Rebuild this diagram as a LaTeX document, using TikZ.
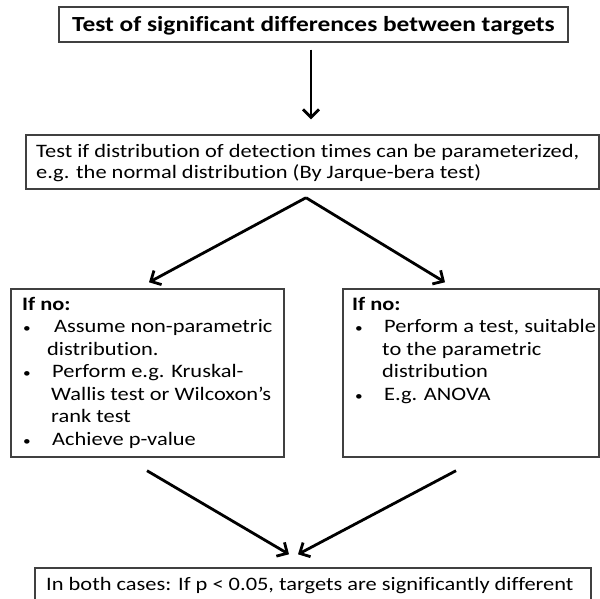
\documentclass[tikz,border=0pt]{standalone}
\usepackage{fontspec}
\setmainfont{Carlito}[FakeStretch=1.18, Ligatures=NoCommon]
\usetikzlibrary{arrows.meta}
\newcommand{\bul}{{\fontsize{13}{13}\selectfont•}}
\tikzset{
  boxnode/.style={draw=black!75, line width=1.4pt, inner sep=0pt, fill=none},
  txt/.style={inner sep=0pt, align=left, anchor=north west},
  arr/.style={line width=2.8pt, -{Straight Barb[length=8pt,width=16pt]}},
}
\begin{document}
\begin{tikzpicture}[x=1pt,y=1pt]
\useasboundingbox (0,0) rectangle (600,-599);
\clip (0,0) rectangle (600,-599);
% boxes
\node[boxnode, minimum width=509pt, minimum height=35pt, text height=18pt, text depth=3pt,
  font=\fontsize{21.5}{25}\selectfont\bfseries] (top) at (313.5,-24.5)
  {Test of significant differences between targets};
\node[boxnode, minimum width=573pt, minimum height=54pt] (box2) at (312.5,-162) {};
\node[boxnode, minimum width=273pt, minimum height=168pt] (lbox) at (147.5,-373) {};
\node[boxnode, minimum width=256pt, minimum height=168pt] (rbox) at (471,-373) {};
\node[boxnode, minimum width=556pt, minimum height=44pt] (bbox) at (313,-590) {};
% texts
\node[txt, font=\fontsize{19}{21}\selectfont] (t2) at (36,-142.3)
  {\strut Test if distribution of detection times can be parameterized,\\
   e.g. the normal distribution (By Jarque-bera test)};
\node[txt, font=\fontsize{19}{22.5}\selectfont] (tl) at (22,-294.25)
  {\strut\textbf{If no:}\\
   \makebox[32pt][l]{\hspace*{1pt}\bul}Assume non-parametric\\
   \hspace*{25pt}distribution.\\
   \makebox[30pt][l]{\hspace*{1pt}\bul}Perform e.g. Kruskal-\\
   \hspace*{29pt}Wallis test or Wilcoxon’s\\
   \hspace*{29pt}rank test\\
   \makebox[30pt][l]{\hspace*{1pt}\bul}Achieve p-value};
\node[txt, font=\fontsize{19}{22.5}\selectfont] (tr) at (352,-294.25)
  {\strut\textbf{If no:}\\
   \makebox[32pt][l]{\hspace*{3pt}\bul}Perform a test, suitable\\
   \hspace*{30pt}to the parametric\\
   \hspace*{30pt}distribution\\
   \makebox[32pt][l]{\hspace*{3pt}\bul}E.g. ANOVA};
\node[inner sep=0pt, anchor=base west, font=\fontsize{19}{21}\selectfont] (tb) at (46,-590)
  {In both cases: If p < 0.05, targets are significantly different};
% connectors
\draw[arr] ([xshift=-2.5pt,yshift=-7pt]top.south) -- ([xshift=-1.5pt,yshift=15pt]box2.north);
\draw[arr] ([xshift=-6.5pt,yshift=-8pt]box2.south) -- ([xshift=1.5pt,yshift=6pt]lbox.north);
\draw[arr] ([xshift=-6.5pt,yshift=-8pt]box2.south) -- ([xshift=-26pt,yshift=6pt]rbox.north);
\draw[arr] ([xshift=-0.5pt,yshift=-13pt]lbox.south) -- ([xshift=-24pt,yshift=13pt]bbox.north);
\draw[arr] ([xshift=-15pt,yshift=-13pt]rbox.south) -- ([xshift=-15pt,yshift=13pt]bbox.north);
\end{tikzpicture}
\end{document}
